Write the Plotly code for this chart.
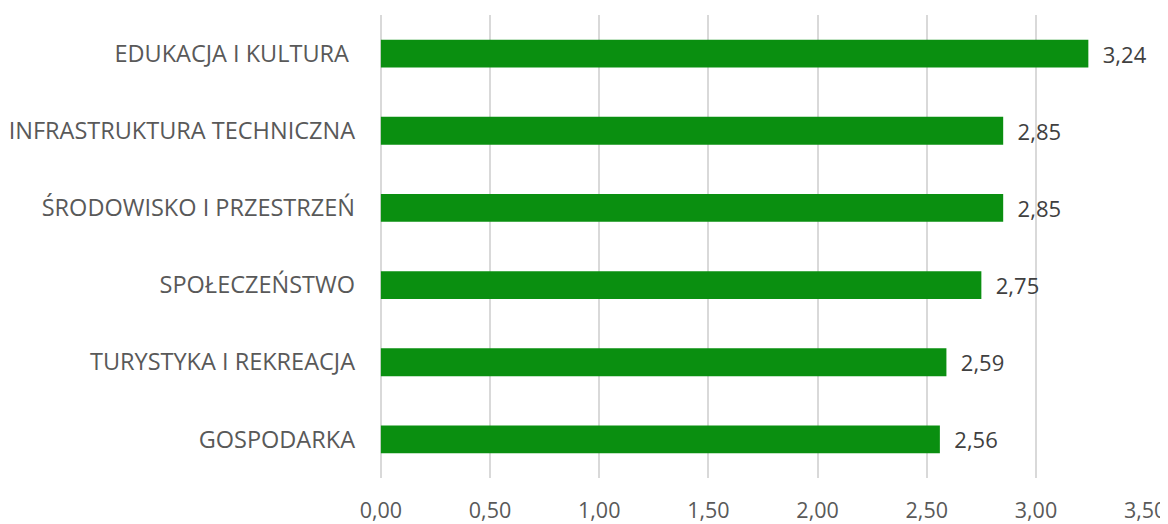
import plotly.graph_objects as go

categories = ["GOSPODARKA", "TURYSTYKA I REKREACJA", "SPOŁECZEŃSTWO",
              "ŚRODOWISKO I PRZESTRZEŃ", "INFRASTRUKTURA TECHNICZNA",
              "EDUKACJA I KULTURA\u00a0"]
values = [2.56, 2.59, 2.75, 2.85, 2.85, 3.24]
tick_vals = [0, 0.5, 1.0, 1.5, 2.0, 2.5, 3.0, 3.5]
tick_text = ["0,00", "0,50", "1,00", "1,50", "2,00", "2,50", "3,00", "3,50"]

labels = ["\u00a0\u00a0" + f"{v:.2f}".replace(".", ",") for v in values]

fig = go.Figure(go.Bar(
    x=values, y=categories, orientation="h",
    marker=dict(color="#0a8f10", line=dict(width=0)),
    width=0.36,
    text=labels, textposition="outside", cliponaxis=False,
    constraintext="none",
    textfont=dict(family="Open Sans", size=22, color="#404040"),
))

fig.update_layout(
    width=1160, height=516,
    margin=dict(l=372, r=22, t=7, b=46),
    paper_bgcolor="white", plot_bgcolor="white",
    showlegend=False,
    font=dict(family="Open Sans", size=22, color="#595959"),
    xaxis=dict(range=[-0.004, 3.504], tickvals=tick_vals, ticktext=tick_text,
               showgrid=True, gridcolor="#d9d9d9", gridwidth=2,
               zeroline=True, zerolinecolor="#d9d9d9", zerolinewidth=2,
               showline=False, ticks="",
               ticklabelstandoff=17, automargin=False,
               tickfont=dict(family="Open Sans", size=21.5, color="#595959")),
    yaxis=dict(showgrid=False, zeroline=False, showline=False, ticks="",
               ticklabelstandoff=24, automargin=False,
               tickfont=dict(family="Open Sans", size=23.5, color="#595959")),
)

fig.write_html("out.html")
